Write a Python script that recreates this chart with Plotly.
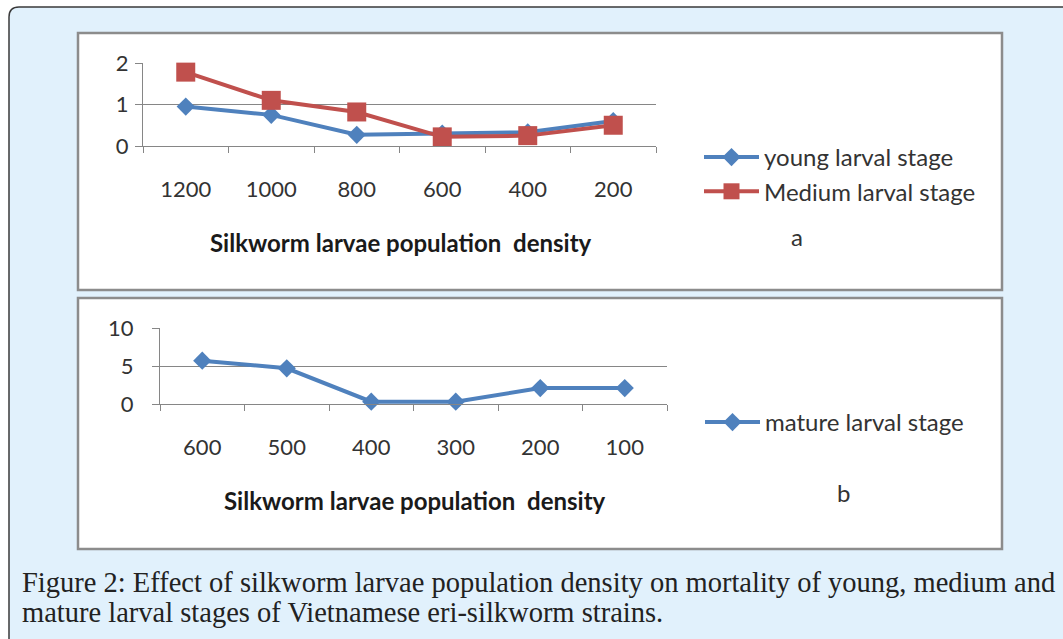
import plotly.graph_objects as go

# ---- data ----
dens_a = ["1200", "1000", "800", "600", "400", "200"]
young = [0.95, 0.75, 0.27, 0.30, 0.33, 0.60]
medium = [1.78, 1.10, 0.82, 0.22, 0.25, 0.50]

dens_b = ["600", "500", "400", "300", "200", "100"]
mature = [5.7, 4.7, 0.3, 0.3, 2.1, 2.1]

W, H = 1063, 639
def X(px): return px / W
def Y(py): return 1 - py / H

BLUE = "#4f81bd"
RED = "#c0504d"
GRID = "#868686"
TXT = "#333333"
FONT = "Lato"

fig = go.Figure()
fig.add_trace(go.Scatter(x=dens_a, y=young, mode="lines+markers", name="young larval stage",
                         line=dict(color=BLUE, width=4), marker=dict(symbol="diamond", size=14, color=BLUE),
                         xaxis="x", yaxis="y", legend="legend", legendgroup="g1", cliponaxis=False))
fig.add_trace(go.Scatter(x=dens_a, y=medium, mode="lines+markers", name="Medium larval stage",
                         line=dict(color=RED, width=4), marker=dict(symbol="square", size=19, color=RED),
                         xaxis="x", yaxis="y", legend="legend", legendgroup="g2", cliponaxis=False))
fig.add_trace(go.Scatter(x=dens_b, y=mature, mode="lines+markers", name="mature larval stage",
                         line=dict(color=BLUE, width=4), marker=dict(symbol="diamond", size=14, color=BLUE),
                         xaxis="x2", yaxis="y2", legend="legend2", cliponaxis=False))

tickfont = dict(family=FONT, size=22, color=TXT)

def xax(domain, anchor, cats, standoff):
    return dict(domain=domain, anchor=anchor, type="category", categoryorder="array",
                categoryarray=cats, range=[-0.5, 5.5], showline=True, linecolor=GRID, linewidth=1,
                ticks="outside", tickson="boundaries", ticklen=6, tickcolor=GRID, showgrid=False,
                tickfont=tickfont, ticklabelstandoff=standoff, fixedrange=True, zeroline=False,
                automargin=False)

def yax(domain, anchor, rng, dtick, standoff):
    return dict(domain=domain, anchor=anchor, range=rng, dtick=dtick, showline=True, linecolor=GRID,
                linewidth=1, ticks="outside", ticklen=7, tickcolor=GRID, showgrid=True, gridcolor=GRID,
                gridwidth=1, tickfont=tickfont, ticklabelstandoff=standoff, zeroline=False,
                fixedrange=True, automargin=False)

shapes = [
    dict(type="path", xref="paper", yref="paper",
         path=f"M {X(9)},{Y(700)} L {X(9)},{Y(17)} Q {X(9)},{Y(7)} {X(19)},{Y(7)} L {X(1100)},{Y(7)} L {X(1100)},{Y(700)} Z",
         fillcolor="#e1f1fc", line=dict(color="#3a3a3a", width=1.5), layer="below"),
    dict(type="rect", xref="paper", yref="paper", x0=X(78), x1=X(1002), y0=Y(290), y1=Y(33),
         fillcolor="white", line=dict(color="#8c8c8c", width=2.5), layer="below"),
    dict(type="rect", xref="paper", yref="paper", x0=X(78), x1=X(1002), y0=Y(549), y1=Y(298),
         fillcolor="white", line=dict(color="#8c8c8c", width=2.5), layer="below"),
]

annotations = [
    dict(text="<b>Silkworm larvae population  density</b>", x=X(401), y=Y(242), xref="paper", yref="paper",
         showarrow=False, font=dict(family=FONT, size=24, color="#1a1a1a"), xanchor="center", yanchor="middle"),
    dict(text="<b>Silkworm larvae population  density</b>", x=X(415), y=Y(500), xref="paper", yref="paper",
         showarrow=False, font=dict(family=FONT, size=24, color="#1a1a1a"), xanchor="center", yanchor="middle"),
    dict(text="a", x=X(797), y=Y(236), xref="paper", yref="paper", showarrow=False,
         font=dict(family=FONT, size=24, color=TXT), xanchor="center", yanchor="middle"),
    dict(text="b", x=X(843), y=Y(492), xref="paper", yref="paper", showarrow=False,
         font=dict(family=FONT, size=24, color=TXT), xanchor="center", yanchor="middle"),
    dict(text="Figure 2: Effect of silkworm larvae population density on mortality of young, medium and",
         x=X(20), y=Y(582), xref="paper", yref="paper", showarrow=False, xanchor="left", yanchor="middle",
         font=dict(family="Liberation Serif", size=28.5, color="#222222")),
    dict(text="mature larval stages of Vietnamese eri-silkworm strains.",
         x=X(20), y=Y(612), xref="paper", yref="paper", showarrow=False, xanchor="left", yanchor="middle",
         font=dict(family="Liberation Serif", size=28.5, color="#222222")),
]

fig.update_layout(
    width=W, height=H, margin=dict(l=0, r=0, t=0, b=0, pad=0, autoexpand=False),
    paper_bgcolor="white", plot_bgcolor="rgba(0,0,0,0)",
    xaxis=xax([X(143), X(656)], "y", dens_a, 24),
    yaxis=yax([Y(146), Y(63)], "x", [0, 2], 1, 2),
    xaxis2=xax([X(160), X(667)], "y2", dens_b, 24),
    yaxis2=yax([Y(404), Y(328)], "x2", [0, 10], 5, 14),
    legend=dict(x=X(699), y=Y(135), xanchor="left", yanchor="top", bgcolor="rgba(0,0,0,0)",
                font=dict(family=FONT, size=24, color=TXT), tracegroupgap=0, traceorder="grouped",
                itemwidth=55),
    legend2=dict(x=X(700), y=Y(400), xanchor="left", yanchor="top", bgcolor="rgba(0,0,0,0)",
                 font=dict(family=FONT, size=24, color=TXT), itemwidth=55),
    shapes=shapes, annotations=annotations, showlegend=True,
)

fig.write_html("out.html", config={"displayModeBar": False},
               post_script="document.body.style.margin='0';document.body.style.padding='0';")
